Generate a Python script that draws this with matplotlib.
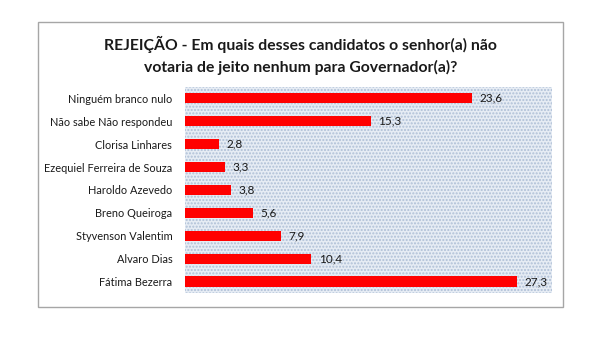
import matplotlib
matplotlib.use("Agg")
import matplotlib.pyplot as plt
from matplotlib.patches import Rectangle

candidatos = ["Ninguém branco nulo", "Não sabe Não respondeu", "Clorisa Linhares",
              "Ezequiel Ferreira de Souza", "Haroldo Azevedo", "Breno Queiroga",
              "Styvenson Valentim", "Alvaro Dias", "Fátima Bezerra"]
rejeicao = [23.6, 15.3, 2.8, 3.3, 3.8, 5.6, 7.9, 10.4, 27.3]
titulo = "REJEIÇÃO - Em quais desses candidatos o senhor(a) não\nvotaria de jeito nenhum para Governador(a)?"

plt.rcParams['font.family'] = ['Lato', 'DejaVu Sans']

fig = plt.figure(figsize=(6.04, 3.38), dpi=100)
fig.patch.set_facecolor("white")

# moldura do grafico
fig.patches.append(Rectangle((0.063, 0.092), 0.869, 0.843, transform=fig.transFigure,
                             fill=False, edgecolor="#a6a6a6", linewidth=1.0))

fig.text(0.497, 0.836, titulo, ha="center", va="center", fontsize=11.3,
         fontweight="bold", linespacing=1.5, color="#1a1a1a")

ax = fig.add_axes([0.306, 0.133, 0.608, 0.61])
ax.set_facecolor("white")
# fundo pontilhado da area de plotagem
ax.add_patch(Rectangle((0, 0), 1, 1, transform=ax.transAxes, facecolor="#e6ecf4",
                       edgecolor="#aebfd6", hatch=".....", linewidth=0, zorder=0))

y = list(range(len(candidatos)))
ax.barh(y, rejeicao, height=0.45, color="#ff0000", zorder=2)
for yi, v in zip(y, rejeicao):
    ax.text(v + 0.6, yi, f"{v:.1f}".replace(".", ","), va="center", ha="left",
            fontsize=8.5, color="#1a1a1a", zorder=3)

ax.set_yticks(y)
ax.set_yticklabels(candidatos, fontsize=7.9, color="#1a1a1a")
ax.set_ylim(len(candidatos) - 0.5, -0.5)
ax.set_xlim(0, 30.2)
ax.set_xticks([])
ax.tick_params(axis="y", length=0, pad=9)
for s in ax.spines.values():
    s.set_visible(False)

fig.savefig("out.png", dpi=100)
